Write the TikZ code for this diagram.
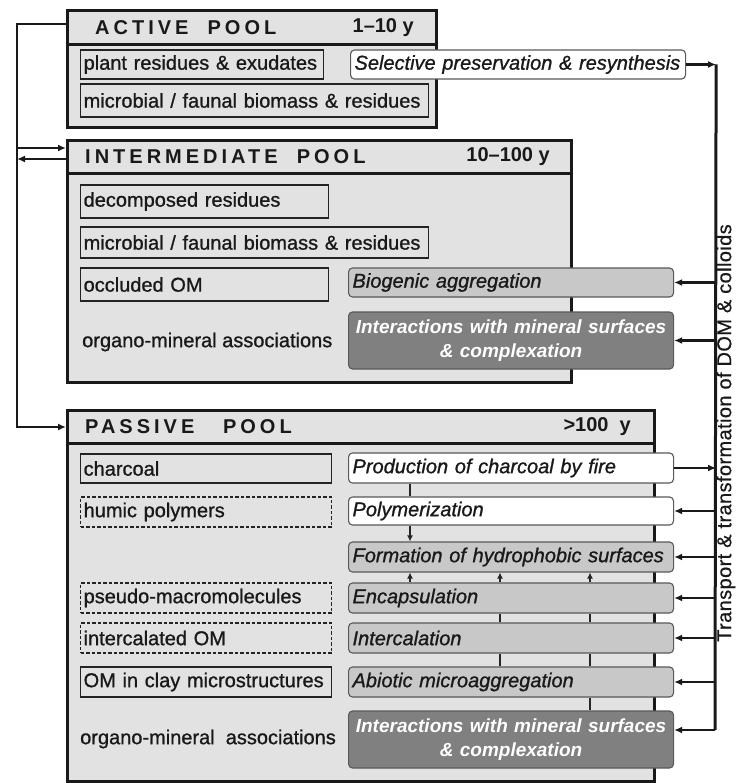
\documentclass[tikz,border=0pt]{standalone}
\usepackage{fontspec}
\setmainfont{Liberation Sans}
\newfontfamily\itemfont{Liberation Sans}[FakeBold=1]
\newfontfamily\titlefont{Liberation Sans}[LetterSpace=20]
\newfontfamily\sidefont{Liberation Sans}[LetterSpace=2,FakeBold=0.6]
\usetikzlibrary{arrows.meta,positioning,calc}
\definecolor{poolgray}{RGB}{226,226,226}
\definecolor{procgray}{RGB}{200,200,200}
\definecolor{procdark}{RGB}{128,128,128}
\definecolor{inkgray}{RGB}{35,35,35}
\tikzset{
  poolbox/.style={rectangle,draw=black!90,line width=3pt,fill=poolgray,inner sep=0pt,anchor=north west},
  headbox/.style={poolbox},
  itembox/.style={rectangle,draw=inkgray,line width=1.3pt,inner xsep=3pt,inner ysep=0pt,minimum height=31pt,anchor=west,align=left,text width=#1,text=black!90,font=\itemfont\fontsize{20}{22}\selectfont},
  dashbox/.style={itembox=#1,dash pattern=on 3.5pt off 2pt},
  procbox/.style={rectangle,rounded corners=4pt,draw=black!65,line width=1.1pt,inner xsep=4pt,inner ysep=0pt,minimum height=30pt,anchor=west,align=left,text width=317pt,text=black!90,font=\itemfont\fontsize{20}{22}\selectfont\itshape},
  whiteproc/.style={procbox,fill=white},
  greyproc/.style={procbox,fill=procgray},
  darkproc/.style={procbox,fill=procdark,text=white,align=center,minimum height=57pt,font=\fontsize{19}{24}\selectfont\bfseries\itshape},
  plaintext/.style={anchor=west,inner sep=0pt,text=black!90,font=\itemfont\fontsize{20}{22}\selectfont},
  pooltitle/.style={anchor=west,inner sep=0pt,text=black!90,font=\titlefont\fontsize{20}{22}\selectfont\bfseries},
  poolage/.style={anchor=east,inner sep=0pt,text=black!90,font=\fontsize{20}{22}\selectfont\bfseries},
  sidelabel/.style={rotate=90,inner sep=0pt,text=black!90,font=\sidefont\fontsize{20}{22}\selectfont},
  busline/.style={line width=3pt,color=black!90},
  busarr/.style={->,>={Latex[length=8pt,width=7pt]},line width=2.7pt,color=black!90},
  link/.style={line width=2.3pt,color=black!85},
  linkarr/.style={link,->,>={Latex[length=6pt,width=6pt]}}
}

\begin{document}
\begin{tikzpicture}[x=1pt,y=-1pt]
  \useasboundingbox (0,0) rectangle (737,783);
  % pools
  \node[poolbox,minimum width=369pt,minimum height=117pt] (active) at (66,9) {};
  \node[headbox,minimum width=369pt,minimum height=34pt] (activehead) at (66,9) {};
  \node[poolbox,minimum width=504pt,minimum height=242pt] (inter) at (66,139) {};
  \node[headbox,minimum width=504pt,minimum height=33pt] (interhead) at (66,139) {};
  \node[poolbox,minimum width=587pt,minimum height=371pt] (passive) at (66,409) {};
  \node[headbox,minimum width=587pt,minimum height=33pt] (passivehead) at (66,409) {};
  \node[pooltitle] (activetitle) at ([xshift=29pt]activehead.west) {ACTIVE\ \ POOL};
  \node[poolage] (activeage) at ([xshift=-24pt]activehead.east) {1–10 y};
  \node[pooltitle] (intertitle) at ([xshift=19pt]interhead.west) {INTERMEDIATE\ \ POOL};
  \node[poolage] (interage) at ([xshift=-23pt]interhead.east) {10–100 y};
  \node[pooltitle] (passivetitle) at ([xshift=19pt]passivehead.west) {PASSIVE\ \ \ POOL};
  \node[poolage] (passiveage) at ([xshift=-25pt]passivehead.east) {>100\ \ y};
  % active pool
  \node[itembox=237pt,minimum height=29pt] (plant) at (80,64.5) {plant residues \& exudates};
  \node[itembox=342pt,minimum height=33pt] (microa) at (80,100.5) {microbial / faunal biomass \& residues};
  \node[whiteproc,text width=327pt,minimum height=29pt] (selective) at (350,64.5) {Selective preservation \& resynthesis};
  % intermediate pool
  \node[itembox=242pt,minimum height=33pt] (decomp) at (80,201.5) {decomposed residues};
  \node[itembox=342pt] (microi) at (80,242.5) {microbial / faunal biomass \& residues};
  \node[itembox=242pt,minimum height=33pt] (occluded) at (80,284.5) {occluded OM};
  \node[plaintext] (organoi) at (82,342) {organo-mineral associations};
  \node[greyproc,minimum height=29pt] (biogenic) at (348,282.5) {Biogenic aggregation};
  \node[darkproc] (interinter) at (348,340.5) {Interactions with mineral surfaces\\\& complexation};
  % passive pool
  \node[itembox=245pt,minimum height=29pt] (charcoal) at (80,468.5) {charcoal};
  \node[dashbox=245pt,minimum height=30pt] (humic) at (80,512) {humic polymers};
  \node[dashbox=245pt,minimum height=30pt] (pseudo) at (80,598) {pseudo-macromolecules};
  \node[dashbox=245pt,minimum height=30pt] (intercalom) at (80,638) {intercalated OM};
  \node[itembox=245pt,minimum height=30pt] (clay) at (80,682) {OM in clay microstructures};
  \node[plaintext] (organop) at (80,739) {organo-mineral\ \ associations};
  \node[whiteproc] (prod) at (348,468) {Production of charcoal by fire};
  \node[whiteproc,minimum height=28pt] (poly) at (348,511) {Polymerization};
  \node[greyproc] (form) at (348,557) {Formation of hydrophobic surfaces};
  \node[greyproc] (encap) at (348,598) {Encapsulation};
  \node[greyproc] (intercal) at (348,638) {Intercalation};
  \node[greyproc] (abiotic) at (348,682) {Abiotic microaggregation};
  \node[darkproc] (interpas) at (348,739.5) {Interactions with mineral surfaces\\\& complexation};
  \node[sidelabel] (domlabel) at (726,433) {Transport \& transformation of DOM \& colloids};
  % left bus
  \coordinate (lbbot) at (17,427);
  \coordinate (intin) at ([yshift=-9pt]inter.north west);
  \coordinate (intout) at ([yshift=-20pt]inter.north west);
  \draw[busarr] ([yshift=-15pt]active.north west) -| (lbbot) -- (passive.west |- lbbot);
  \draw[busarr] (lbbot |- intin) -- (intin);
  \draw[busarr] (intout) -- (lbbot |- intout);
  % right bus
  \path (selective.east) ++(30,0) coordinate (rbtop);
  \coordinate (rbbot) at (715,730);
  \draw[busline] (rbtop) -- (rbbot);
  \draw[busarr] (selective) -- (rbtop);
  \draw[busarr] (prod.east) -- (prod.east -| rbtop);
  \foreach \n in {biogenic,interinter,poly,form,encap,intercal,abiotic}
    \draw[busarr] (\n.east -| rbtop) -- (\n.east);
  \draw[busarr] (rbbot) -- (interpas.east |- rbbot);
  % links in the passive pool
  \coordinate (colA) at (410,0);
  \coordinate (colB) at (500,0);
  \coordinate (colC) at (590,0);
  \draw[link] (prod.south -| colA) -- (poly.north -| colA);
  \draw[linkarr] (poly.south -| colA) -- (form.north -| colA);
  \foreach \c in {colA,colB,colC}
    \draw[linkarr] (encap.north -| \c) -- (form.south -| \c);
  \foreach \c in {colB,colC} {
    \draw[link] (intercal.north -| \c) -- (encap.south -| \c);
    \draw[link] (abiotic.north -| \c) -- (intercal.south -| \c);
  }
  \draw[link] (interpas.north -| colC) -- (abiotic.south -| colC);
\end{tikzpicture}
\end{document}
